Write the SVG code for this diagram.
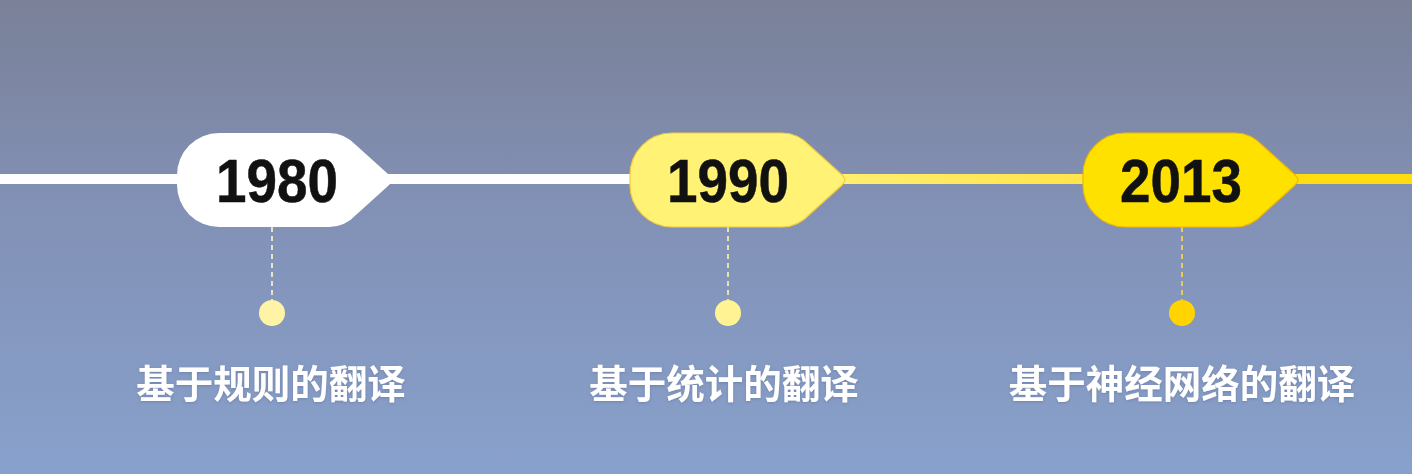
<svg xmlns="http://www.w3.org/2000/svg" width="1412" height="474" viewBox="0 0 1412 474">
  <defs>
    <linearGradient id="bg" x1="0" y1="0" x2="0" y2="1">
      <stop offset="0" stop-color="#7A8198"/>
      <stop offset="0.45" stop-color="#8291B6"/>
      <stop offset="1" stop-color="#88A1CC"/>
    </linearGradient>
    <linearGradient id="mid" x1="0" y1="0" x2="1" y2="0">
      <stop offset="0" stop-color="#FFEF70"/>
      <stop offset="1" stop-color="#FFE44A"/>
    </linearGradient>
    <path id="tag" d="M42,0 H152 Q168,0 180,13 L211,41 Q215,45 215,47 Q215,49 211,53 L180,81 Q168,94 152,94 H42 A42 42 0 0 1 0 52 V42 A42 42 0 0 1 42 0 Z"/>
    <filter id="soft" x="-10%" y="-20%" width="120%" height="140%">
      <feDropShadow dx="0" dy="1" stdDeviation="1.5" flood-color="#5a6a90" flood-opacity="0.5"/>
    </filter>
  </defs>
  <style>
    .year { font-family: "Liberation Sans", Arial, sans-serif; font-weight: bold; font-size: 61px; fill: #111; stroke: #111; stroke-width: 0.5; text-anchor: middle; }
    .label { font-family: "Noto Sans CJK SC", "Noto Sans", sans-serif; font-weight: bold; font-size: 38.5px; fill: #FFFFFF; text-anchor: middle; }
    .dash { stroke-width: 1.6; stroke-dasharray: 5 4; fill: none; }
  </style>
  <rect width="1412" height="474" fill="url(#bg)"/>

  <g id="connectors">
    <rect x="0" y="174" width="640" height="10" fill="#FFFFFF"/>
    <rect x="840" y="174" width="250" height="10" fill="url(#mid)"/>
    <rect x="1290" y="174" width="122" height="10" fill="#FFDD10"/>
    <line class="dash" x1="272" y1="227" x2="272" y2="300" stroke="#FFF8D0"/>
    <line class="dash" x1="728" y1="227" x2="728" y2="300" stroke="#FFF3B0"/>
    <line class="dash" x1="1182" y1="227" x2="1182" y2="300" stroke="#FFD84A"/>
  </g>

  <g id="node-1980">
    <use href="#tag" x="177" y="133" fill="#FFFFFF"/>
    <text class="year" x="277" y="202" textLength="122" lengthAdjust="spacingAndGlyphs">1980</text>
    <circle cx="272" cy="313" r="13" fill="#FFF4A6"/>
    <text class="label" x="271" y="398" filter="url(#soft)">基于规则的翻译</text>
  </g>

  <g id="node-1990">
    <use href="#tag" x="630" y="133" fill="#FFF275" stroke="#F2CC40" stroke-width="1.2"/>
    <text class="year" x="728" y="202" textLength="122" lengthAdjust="spacingAndGlyphs">1990</text>
    <circle cx="728" cy="313" r="13" fill="#FFF394"/>
    <text class="label" x="724" y="398" filter="url(#soft)">基于统计的翻译</text>
  </g>

  <g id="node-2013">
    <use href="#tag" x="1083" y="133" fill="#FFE100" stroke="#F0B800" stroke-width="1.2"/>
    <text class="year" x="1181" y="202" textLength="122" lengthAdjust="spacingAndGlyphs">2013</text>
    <circle cx="1182" cy="313" r="13" fill="#FFD400"/>
    <text class="label" x="1182" y="398" filter="url(#soft)">基于神经网络的翻译</text>
  </g>
</svg>
